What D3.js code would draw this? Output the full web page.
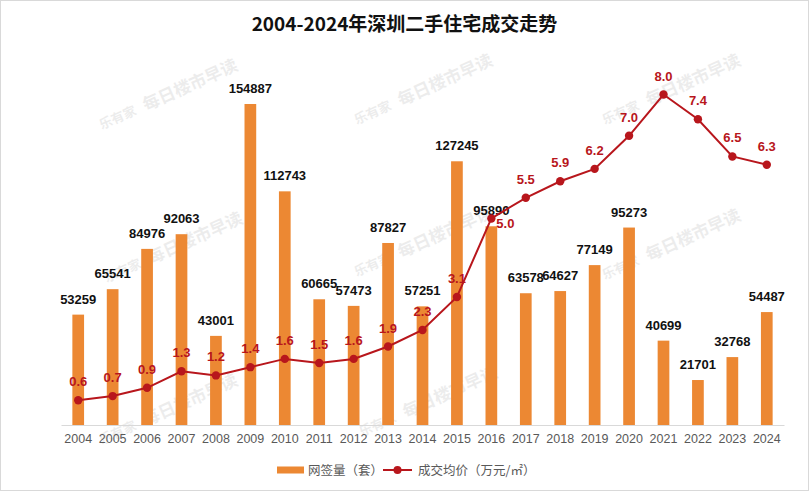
<!DOCTYPE html>
<html lang="zh">
<head>
    <meta charset="UTF-8">
    <title>2004-2024年深圳二手住宅成交走势</title>
    <script src="https://d3js.org/d3.v7.min.js"></script>
    <style>
        body {
            margin: 0;
            padding: 0;
            background-color: #fff;
        }

        #chart {
            display: block;
        }

        .title {
            font-family: "Noto Sans CJK SC", sans-serif;
            font-weight: bold;
            font-size: 19px;
            fill: #111;
        }

        .bar-label {
            font-family: "Liberation Sans", Arial, sans-serif;
            font-weight: bold;
            font-size: 13px;
            fill: #111;
        }

        .price-label {
            font-family: "Liberation Sans", Arial, sans-serif;
            font-weight: bold;
            font-size: 13px;
            fill: #b8161c;
        }

        .x-axis text {
            font-family: "Liberation Sans", Arial, sans-serif;
            font-size: 12.5px;
            fill: #595959;
        }

        .legend-text {
            font-family: "Noto Sans CJK SC", sans-serif;
            font-size: 12.5px;
            fill: #595959;
        }

        .watermark {
            font-family: "Noto Sans CJK SC", sans-serif;
            font-weight: bold;
            fill: #000;
            opacity: 0.07;
        }
    </style>
</head>
<body>
<svg id="chart"></svg>

<script>
    // Data
    const years = ['2004', '2005', '2006', '2007', '2008', '2009', '2010', '2011', '2012', '2013', '2014',
        '2015', '2016', '2017', '2018', '2019', '2020', '2021', '2022', '2023', '2024'];
    const deals = [53259, 65541, 84976, 92063, 43001, 154887, 112743, 60665, 57473, 87827, 57251,
        127245, 95890, 63578, 64627, 77149, 95273, 40699, 21701, 32768, 54487];
    const prices = [0.6, 0.7, 0.9, 1.3, 1.2, 1.4, 1.6, 1.5, 1.6, 1.9, 2.3,
        3.1, 5.0, 5.5, 5.9, 6.2, 7.0, 8.0, 7.4, 6.5, 6.3];
    const seriesNames = ['网签量（套）', '成交均价（万元/㎡）'];
    const titleText = '2004-2024年深圳二手住宅成交走势';

    const data = years.map((y, i) => ({ year: y, deals: deals[i], price: prices[i] }));

    const W = 809, H = 491;
    const barColor = '#ec8833';
    const lineColor = '#b8161c';

    const svg = d3.select('#chart')
        .attr('width', W)
        .attr('height', H);

    // frame
    svg.append('rect')
        .attr('x', 0.5).attr('y', 0.5)
        .attr('width', W - 1).attr('height', H - 1)
        .attr('fill', '#fff')
        .attr('stroke', '#d9d9d9');

    // faint source watermarks
    const marks = [[165, 95], [420, 90], [668, 90], [170, 248], [420, 242], [668, 245], [165, 410], [425, 402]];
    marks.forEach(([cx, cy]) => {
        const g = svg.append('g')
            .attr('transform', `translate(${cx},${cy}) rotate(-24)`);
        g.append('text')
            .attr('class', 'watermark')
            .attr('x', -72).attr('y', 6)
            .attr('font-size', 13)
            .text('乐有家');
        g.append('text')
            .attr('class', 'watermark')
            .attr('x', -24).attr('y', 7)
            .attr('font-size', 17)
            .text('每日楼市早读');
    });

    // title
    svg.append('text')
        .attr('class', 'title')
        .attr('x', W / 2)
        .attr('y', 31)
        .attr('text-anchor', 'middle')
        .text(titleText);

    // scales
    const baseY = 425;
    const x = d3.scaleBand()
        .domain(years)
        .range([61, 784])
        .paddingInner(0.66)
        .paddingOuter(0.33);

    const yBar = d3.scaleLinear().domain([0, 160000]).range([baseY, 93.4]);
    const yPrice = d3.scaleLinear().domain([0, 8]).range([baseY, 94.5]);

    const cx = d => x(d.year) + x.bandwidth() / 2;

    // bars
    svg.append('g')
        .selectAll('rect')
        .data(data)
        .join('rect')
        .attr('x', d => x(d.year))
        .attr('y', d => yBar(d.deals))
        .attr('width', x.bandwidth())
        .attr('height', d => baseY - yBar(d.deals))
        .attr('fill', barColor);

    // x axis
    const xAxis = svg.append('g')
        .attr('class', 'x-axis')
        .attr('transform', `translate(0,${baseY})`)
        .call(d3.axisBottom(x).tickSize(0).tickSizeOuter(0).tickPadding(9));
    xAxis.select('.domain').attr('stroke', '#d9d9d9');

    // bar labels
    svg.append('g')
        .selectAll('text')
        .data(data)
        .join('text')
        .attr('class', 'bar-label')
        .attr('x', cx)
        .attr('y', d => yBar(d.deals) - 11)
        .attr('text-anchor', 'middle')
        .text(d => d.deals);

    // price line
    const line = d3.line()
        .x(cx)
        .y(d => yPrice(d.price));

    svg.append('path')
        .datum(data)
        .attr('fill', 'none')
        .attr('stroke', lineColor)
        .attr('stroke-width', 2)
        .attr('d', line);

    svg.append('g')
        .selectAll('circle')
        .data(data)
        .join('circle')
        .attr('cx', cx)
        .attr('cy', d => yPrice(d.price))
        .attr('r', 4.2)
        .attr('fill', lineColor);

    // price labels (2016 label sits to the right of its point)
    svg.append('g')
        .selectAll('text')
        .data(data)
        .join('text')
        .attr('class', 'price-label')
        .attr('x', d => d.year === '2016' ? cx(d) + 5 : cx(d))
        .attr('y', d => d.year === '2016' ? yPrice(d.price) + 10 : yPrice(d.price) - 14)
        .attr('text-anchor', d => d.year === '2016' ? 'start' : 'middle')
        .text(d => d.price.toFixed(1));

    // legend
    const legend = svg.append('g').attr('transform', 'translate(0,470)');
    legend.append('rect')
        .attr('x', 277).attr('y', -3.5)
        .attr('width', 27).attr('height', 7)
        .attr('fill', barColor);
    legend.append('text')
        .attr('class', 'legend-text')
        .attr('x', 308).attr('y', 4.5)
        .text(seriesNames[0]);
    legend.append('line')
        .attr('x1', 383).attr('x2', 412)
        .attr('y1', 0).attr('y2', 0)
        .attr('stroke', lineColor)
        .attr('stroke-width', 2);
    legend.append('circle')
        .attr('cx', 397.5).attr('cy', 0)
        .attr('r', 4)
        .attr('fill', lineColor);
    legend.append('text')
        .attr('class', 'legend-text')
        .attr('x', 418).attr('y', 4.5)
        .text(seriesNames[1]);
</script>
</body>
</html>
